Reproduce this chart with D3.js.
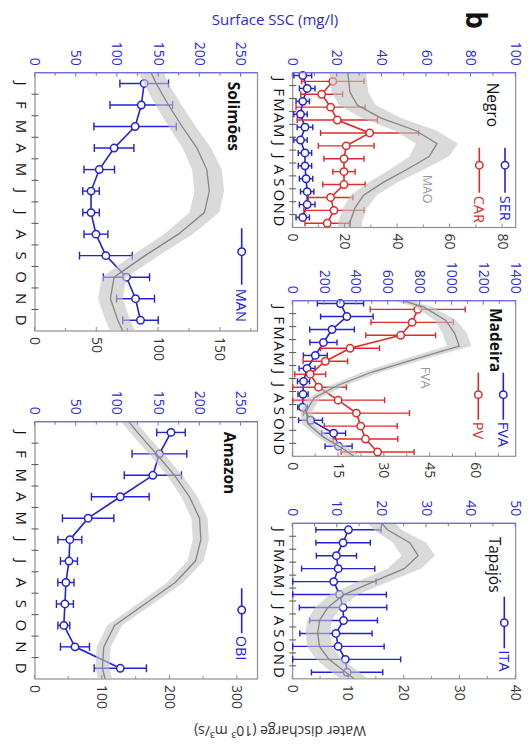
<!DOCTYPE html>
<html>
<head>
<meta charset="utf-8">
<script src="https://cdn.jsdelivr.net/npm/d3@7"></script>
<style>
  html, body { margin: 0; padding: 0; background: #fff; }
  svg { display: block; }
</style>
</head>
<body>
<svg id="chart" width="532" height="749"></svg>
<script>
// Month labels (x axis of every panel)
const months = ["J", "F", "M", "A", "M", "J", "J", "A", "S", "O", "N", "D"];

// ---- Rio Negro: surface SSC (mg/l), monthly mean and standard deviation
const serSSC = [4.5, 6.5, 4.5, 3.5, 5.5, 3.5, 5.5, 5.5, 6, 6.5, 6.5, 4.5];
const serSD  = [4, 3.5, 3, 3, 3.5, 3, 3, 3, 3, 3, 3.5, 3];
const carSSC = [18, 13, 17, 20, 34.5, 24, 23, 23, 23, 17, 18.5, 15.5];
const carSD  = [14, 9.4, 15.5, 18, 22, 12.5, 9, 5, 9.5, 10, 13.5, 10];
// Water discharge (10^3 m3/s): 1 Jan, mid-month Jan..Dec, 31 Dec
const maoQ   = [21, 21.3, 21.8, 24.6, 33.5, 47, 55, 52, 43.5, 34.5, 27, 23.7, 22, 21.8];
const maoQsd = [7, 7, 7, 7, 7.5, 8, 8, 7.5, 6.5, 5.5, 5, 4.5, 4.5, 4.5];

// ---- Rio Madeira
const fvaSSC = [300, 340, 247, 193, 142, 90, 68, 65, 62, 112, 257, 288];
const fvaSD  = [145, 165, 140, 85, 75, 50, 38, 32, 30, 75, 75, 85];
const pvSSC  = [785, 750, 678, 360, 205, 110, 162, 285, 400, 427, 457, 533];
const pvSD   = [298, 258, 219, 185, 140, 97, 175, 292, 333, 229, 203, 229];
const fvaQ   = [36, 43, 50, 53, 54.5, 40, 26, 15, 7, 4.5, 5, 10, 17, 20];
const fvaQsd = [3, 3, 3.5, 4, 4, 3.5, 3, 2.5, 2, 2, 2, 2, 2.5, 2.5];

// ---- Rio Tapajós
const itaSSC = [12.5, 11.3, 9.8, 10.2, 9.2, 10.5, 11.3, 11.4, 9.7, 10.2, 11.8, 12.2];
const itaSD  = [7.3, 6.1, 4.5, 8.2, 9.5, 10.5, 9.8, 7.6, 8.1, 10.3, 12.4, 8];
const itaQ   = [16, 17, 21, 22.5, 20, 14.5, 9.2, 6.3, 4.8, 4.5, 4.8, 6.5, 9.5, 11];
const itaQsd = [2.5, 2.5, 3, 3, 3, 2.8, 2.5, 2.3, 2.2, 2.2, 2.2, 2.3, 2.5, 2.5];

// ---- Rio Solimões
const manSSC = [132.5, 129, 121.5, 96, 78, 68, 68, 74, 86, 111, 122, 128];
const manSD  = [29.5, 38, 50, 24, 18.5, 10, 10, 14.5, 32, 28, 23, 21.5];
const manQ   = [94, 98, 108, 119, 131, 139, 141, 137, 116, 89, 64, 61, 67, 71];
const manQsd = [10, 10, 10.5, 11, 11.5, 12, 12, 12, 11.5, 11, 10, 10, 10, 10];

// ---- Amazon (Óbidos)
const obiSSC = [165, 151, 143, 103.5, 64.5, 42.3, 41.2, 37.5, 36.3, 35, 48.5, 103.5];
const obiSD  = [17.3, 33.2, 34.7, 35, 31.2, 14.5, 10.3, 9.8, 10.3, 7.2, 17.6, 31.7];
const obiQ   = [139, 152, 180, 207, 229, 244, 246, 238, 208, 163, 118, 102, 100, 104];
const obiQsd = [11, 11, 11, 11.5, 12, 12, 12, 12, 12, 11.5, 11, 10.5, 10.5, 10.5];

// ---------------------------------------------------------------------------
const BLUE = "#2222d6", RED = "#e22a2a";
const SSC_TEXT = "#2a2ad8", SSC_AXIS = "#6f6fe2";
const FRAME = "#8f8f8f", DARK = "#333";
const FONT = "'Open Sans', 'DejaVu Sans', sans-serif";
const plain = d3.format("d");

// The figure is laid out landscape (749 x 532) and turned a quarter clockwise.
const svg = d3.select("#chart");
svg.append("rect").attr("width", 532).attr("height", 749).attr("fill", "#fff");
const fig = svg.append("g")
  .attr("transform", "translate(532,0) rotate(90)")
  .attr("font-family", FONT);

const panels = [
  { title: "Negro", bold: false, x0: 72.7, x1: 227.5, y0: 16.3, y1: 239.3,
    ssc: { max: 100, step: 20 }, q: { max: 85, step: 20 },
    series: [
      { name: "SER", color: BLUE, mean: serSSC, sd: serSD, shift: -0.28 },
      { name: "CAR", color: RED,  mean: carSSC, sd: carSD, shift: 0.17 }
    ],
    flow: { mean: maoQ, sd: maoQsd, label: "MAO", at: [102, 88.5] },
    titleAt: [10, 22.5],
    legend: { line: [75, 120], dot: 92.5, text: 123, rows: [10.7, 36.4] },
    cap: 3 },
  { title: "Madeira", bold: true, x0: 300.7, x1: 456.3, y0: 16.3, y1: 239.3,
    ssc: { max: 1400, step: 200 }, q: { max: 73, step: 15 },
    series: [
      { name: "FVA", color: BLUE, mean: fvaSSC, sd: fvaSD, shift: -0.28 },
      { name: "PV",  color: RED,  mean: pvSSC,  sd: pvSD,  shift: 0.17 }
    ],
    flow: { mean: fvaQ, sd: fvaQsd, label: "FVA", at: [66, 90.7] },
    titleAt: [7.3, 20],
    legend: { line: [72, 119], dot: 94, text: 121, rows: [12.4, 37.4] },
    cap: 3 },
  { title: "Tapajós", bold: false, x0: 523.3, x1: 678.8, y0: 16.3, y1: 239.3,
    ssc: { max: 50, step: 10 }, q: { max: 40, step: 10 },
    series: [
      { name: "ITA", color: BLUE, mean: itaSSC, sd: itaSD, shift: 0 }
    ],
    flow: { mean: itaQ, sd: itaQsd },
    titleAt: [13.4, 20.7],
    legend: { line: [73.4, 125], dot: 99.4, text: 127, rows: [11.4] },
    cap: 3 },
  { title: "Solimões", bold: true, x0: 72.7, x1: 331, y0: 274.5, y1: 497,
    ssc: { max: 270, step: 50 }, q: { max: 180, step: 50 },
    series: [
      { name: "MAN", color: BLUE, mean: manSSC, sd: manSD, shift: 0 }
    ],
    flow: { mean: manQ, sd: manQsd },
    titleAt: [9, 23.5],
    legend: { line: [155.6, 212], dot: 179, text: 216, rows: [15.8] },
    cap: 4 },
  { title: "Amazon", bold: true, x0: 421.7, x1: 679, y0: 274.5, y1: 497,
    ssc: { max: 270, step: 50 }, q: { max: 330, step: 100 },
    series: [
      { name: "OBI", color: BLUE, mean: obiSSC, sd: obiSD, shift: 0 }
    ],
    flow: { mean: obiQ, sd: obiQsd },
    titleAt: [10, 27.5],
    legend: { line: [166.6, 211.6], dot: 188.3, text: 214, rows: [15.8] },
    cap: 4 }
];

// month position of each discharge value: year start, mid-months, year end
const flowAt = [0, ...months.map((m, i) => i + 0.5), 12];

function ticksBetween(max, step) {
  return d3.range(0, max + 1e-9, step);
}
function halfTicks(max, step) {
  return d3.range(step / 2, max + 1e-9, step);
}

function drawPanel(p) {
  const pg = fig.append("g").attr("class", "panel");
  const mx = d3.scaleLinear().domain([0, 12]).range([p.x0, p.x1]);
  const ys = d3.scaleLinear().domain([0, p.ssc.max]).range([p.y1, p.y0]);
  const yq = d3.scaleLinear().domain([0, p.q.max]).range([p.y1, p.y0]);

  // frame
  pg.append("rect")
    .attr("x", p.x0).attr("y", p.y0)
    .attr("width", p.x1 - p.x0).attr("height", p.y1 - p.y0)
    .attr("fill", "none").attr("stroke", FRAME).attr("stroke-width", 1.2);

  // SSC series: error bars, connecting line, open circles
  p.series.forEach(s => {
    const pos = s.mean.map((v, i) => i + 0.5 + s.shift);
    const rows = s.mean.map((v, i) => ({
      x: mx(pos[i]), v,
      lo: Math.max(0, v - s.sd[i]),
      hi: Math.min(p.ssc.max, v + s.sd[i])
    }));
    const eb = pg.append("g").attr("stroke", s.color).attr("stroke-width", 1.4);
    eb.selectAll("line.stem").data(rows).join("line").attr("class", "stem")
      .attr("x1", d => d.x).attr("x2", d => d.x)
      .attr("y1", d => ys(d.lo)).attr("y2", d => ys(d.hi));
    eb.selectAll("line.capl").data(rows).join("line").attr("class", "capl")
      .attr("x1", d => d.x - p.cap).attr("x2", d => d.x + p.cap)
      .attr("y1", d => ys(d.lo)).attr("y2", d => ys(d.lo));
    eb.selectAll("line.caph").data(rows).join("line").attr("class", "caph")
      .attr("x1", d => d.x - p.cap).attr("x2", d => d.x + p.cap)
      .attr("y1", d => ys(d.hi)).attr("y2", d => ys(d.hi));

    pg.append("path").datum(rows)
      .attr("fill", "none").attr("stroke", s.color).attr("stroke-width", 1.6)
      .attr("d", d3.line().x(d => d.x).y(d => ys(d.v)));

    pg.append("g").selectAll("circle").data(rows).join("circle")
      .attr("cx", d => d.x).attr("cy", d => ys(d.v)).attr("r", 3.7)
      .attr("fill", "#fff").attr("stroke", s.color).attr("stroke-width", 1.5);
  });

  // discharge: mean +/- sd band and mean line, laid over the SSC marks
  const flow = p.flow.mean.map((v, i) => ({ t: flowAt[i], v, sd: p.flow.sd[i] }));
  pg.append("path").datum(flow)
    .attr("fill", "#c4c4c4").attr("fill-opacity", 0.62)
    .attr("d", d3.area().x(d => mx(d.t))
      .y0(d => yq(Math.max(0, d.v - d.sd))).y1(d => yq(d.v + d.sd)));
  pg.append("path").datum(flow)
    .attr("fill", "none").attr("stroke", "#858585").attr("stroke-width", 1.3)
    .attr("d", d3.line().x(d => mx(d.t)).y(d => yq(d.v)));

  if (p.flow.label) {
    pg.append("text")
      .attr("x", p.x0 + p.flow.at[0]).attr("y", p.y0 + p.flow.at[1])
      .attr("dominant-baseline", "central")
      .attr("font-size", 12.5).attr("fill", "#9a9a9a")
      .text(p.flow.label);
  }

  // SSC axis (left, blue)
  pg.append("line")
    .attr("x1", p.x0).attr("x2", p.x0).attr("y1", p.y0).attr("y2", p.y1)
    .attr("stroke", SSC_AXIS).attr("stroke-width", 1.3);
  pg.append("g").attr("transform", `translate(${p.x0},0)`)
    .call(d3.axisLeft(ys).tickValues(halfTicks(p.ssc.max, p.ssc.step))
      .tickFormat("").tickSizeInner(-3).tickSizeOuter(0))
    .call(a => a.select(".domain").remove())
    .call(a => a.selectAll("line").attr("stroke", SSC_AXIS));
  pg.append("g").attr("transform", `translate(${p.x0},0)`)
    .call(d3.axisLeft(ys).tickValues(ticksBetween(p.ssc.max, p.ssc.step))
      .tickFormat(plain).tickSizeInner(-4).tickSizeOuter(0).tickPadding(7))
    .attr("font-family", FONT).attr("font-size", 14)
    .call(a => a.select(".domain").remove())
    .call(a => a.selectAll("line").attr("stroke", SSC_AXIS))
    .call(a => a.selectAll("text").attr("fill", SSC_TEXT));

  // discharge axis (right)
  pg.append("g").attr("transform", `translate(${p.x1},0)`)
    .call(d3.axisRight(yq).tickValues(halfTicks(p.q.max, p.q.step))
      .tickFormat("").tickSizeInner(-3).tickSizeOuter(0))
    .call(a => a.select(".domain").remove())
    .call(a => a.selectAll("line").attr("stroke", FRAME));
  pg.append("g").attr("transform", `translate(${p.x1},0)`)
    .call(d3.axisRight(yq).tickValues(ticksBetween(p.q.max, p.q.step))
      .tickFormat(plain).tickSizeInner(-4).tickSizeOuter(0).tickPadding(6))
    .attr("font-family", FONT).attr("font-size", 14)
    .call(a => a.select(".domain").remove())
    .call(a => a.selectAll("line").attr("stroke", FRAME))
    .call(a => a.selectAll("text").attr("fill", DARK));

  // month axis (bottom): ticks on month boundaries, letters at mid-month
  pg.append("g").selectAll("line").data(d3.range(1, 12)).join("line")
    .attr("x1", d => mx(d)).attr("x2", d => mx(d))
    .attr("y1", p.y1 - 3.5).attr("y2", p.y1 + 3.5)
    .attr("stroke", "#555").attr("stroke-width", 1);
  pg.append("g").selectAll("text").data(months).join("text")
    .attr("x", (d, i) => mx(i + 0.5)).attr("y", p.y1 + 13)
    .attr("text-anchor", "middle").attr("dominant-baseline", "central")
    .attr("font-size", 15).attr("fill", "#111")
    .text(d => d);

  // panel title
  pg.append("text")
    .attr("x", p.x0 + p.titleAt[0]).attr("y", p.y0 + p.titleAt[1])
    .attr("dominant-baseline", "central")
    .attr("font-size", 15.5).attr("font-weight", p.bold ? 700 : 400)
    .attr("fill", "#111")
    .text(p.title);

  // legend
  p.series.forEach((s, r) => {
    const ly = p.y0 + p.legend.rows[r];
    pg.append("line")
      .attr("x1", p.x0 + p.legend.line[0]).attr("x2", p.x0 + p.legend.line[1])
      .attr("y1", ly).attr("y2", ly)
      .attr("stroke", s.color).attr("stroke-width", 1.6);
    pg.append("circle")
      .attr("cx", p.x0 + p.legend.dot).attr("cy", ly).attr("r", 3.7)
      .attr("fill", "#fff").attr("stroke", s.color).attr("stroke-width", 1.5);
    pg.append("text")
      .attr("x", p.x0 + p.legend.text).attr("y", ly)
      .attr("dominant-baseline", "central")
      .attr("font-size", 14.5).attr("fill", s.color)
      .text(s.name);
  });
}

panels.forEach(drawPanel);

// figure-level labels
fig.append("text")
  .attr("x", 20).attr("y", 66)
  .attr("text-anchor", "middle")
  .attr("font-size", 28).attr("font-weight", 700).attr("fill", "#111")
  .text("b");

fig.append("text")
  .attr("transform", "translate(19,257) rotate(-90)")
  .attr("text-anchor", "middle").attr("dominant-baseline", "central")
  .attr("font-size", 15).attr("fill", SSC_TEXT)
  .text("Surface SSC (mg/l)");

fig.append("text")
  .attr("transform", "translate(731,252) rotate(90)")
  .attr("text-anchor", "middle").attr("dominant-baseline", "central")
  .attr("font-size", 14).attr("fill", DARK)
  .text("Water discharge (10³ m³/s)");
</script>
</body>
</html>
